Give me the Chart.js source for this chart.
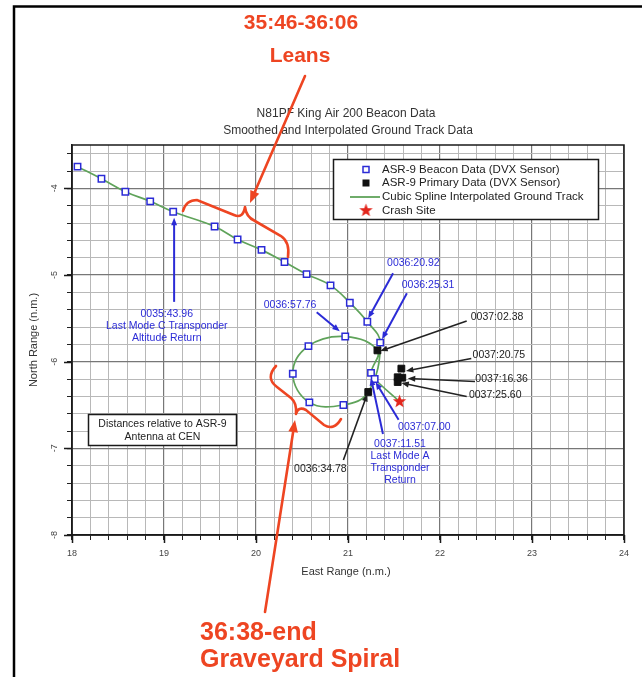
<!DOCTYPE html>
<html>
<head>
<meta charset="utf-8">
<script src="https://cdn.jsdelivr.net/npm/chart.js@4.4.1/dist/chart.umd.min.js"></script>
<style>
  html, body { margin: 0; padding: 0; background: #fff; }
  canvas { display: block; }
</style>
</head>
<body>
<canvas id="trackChart" width="642" height="677"></canvas>
<script>
// spline knots in flight order (east / north range, n.m.)
const trackEast = [18.06, 18.32, 18.58, 18.85, 19.10, 19.55, 19.80, 20.06, 20.31, 20.55, 20.81, 21.02, 21.21, 21.35,
  21.22, 20.95, 20.58, 20.40, 20.57, 20.97, 21.32, 21.25, 21.29, 21.56];
const trackNorth = [-3.75, -3.89, -4.04, -4.15, -4.27, -4.44, -4.59, -4.71, -4.85, -4.99, -5.12, -5.32, -5.54, -5.78,
  -6.35, -6.50, -6.47, -6.14, -5.82, -5.71, -5.87, -6.13, -6.20, -6.46];

// ASR-9 beacon returns
const beaconEast = [18.06, 18.32, 18.58, 18.85, 19.10, 19.55, 19.80, 20.06, 20.31, 20.55, 20.81, 21.02, 21.21, 21.35,
  20.95, 20.58, 20.40, 20.57, 20.97, 21.25, 21.29];
const beaconNorth = [-3.75, -3.89, -4.04, -4.15, -4.27, -4.44, -4.59, -4.71, -4.85, -4.99, -5.12, -5.32, -5.54, -5.78,
  -6.50, -6.47, -6.14, -5.82, -5.71, -6.13, -6.20];

// ASR-9 primary returns
const primaryEast = [21.22, 21.32, 21.58, 21.54, 21.59, 21.54];
const primaryNorth = [-6.35, -5.87, -6.08, -6.18, -6.185, -6.235];

const crashEast = [21.56];
const crashNorth = [-6.46];

const eastTicks = [18, 19, 20, 21, 22, 23, 24];
const northTicks = [-8, -7, -6, -5, -4];
const northTop = -3.5;

const blue = '#2b2bd6';
const red = '#ee4522';
const green = '#5fa35a';

// time tags: label anchor, arrow tail, arrow tip (data coords)
const timeNotes = [
  { lines: ['0035:43.96', 'Last Mode C Transponder', 'Altitude Return'], at: [19.03, -5.45], from: [19.11, -5.31], to: [19.11, -4.34], color: blue },
  { lines: ['0036:20.92'], at: [21.71, -4.86], from: [21.49, -4.98], to: [21.22, -5.50], color: blue },
  { lines: ['0036:25.31'], at: [21.87, -5.115], from: [21.64, -5.21], to: [21.37, -5.74], color: blue },
  { lines: ['0036:57.76'], at: [20.37, -5.35], from: [20.66, -5.43], to: [20.91, -5.65], color: blue },
  { lines: ['0037:07.00'], at: [21.83, -6.76], from: [21.55, -6.67], to: [21.30, -6.235], color: blue },
  { lines: ['0037:11.51', 'Last Mode A', 'Transponder', 'Return'], at: [21.565, -6.95], from: [21.38, -6.835], to: [21.25, -6.19], color: blue },
  { lines: ['0037:02.38'], at: [22.62, -5.485], from: [22.29, -5.53], to: [21.35, -5.877], color: '#222' },
  { lines: ['0037:20.75'], at: [22.64, -5.923], from: [22.34, -5.963], to: [21.63, -6.108], color: '#222' },
  { lines: ['0037:16.36'], at: [22.67, -6.206], from: [22.38, -6.229], to: [21.65, -6.194], color: '#222' },
  { lines: ['0037:25.60'], at: [22.60, -6.385], from: [22.29, -6.402], to: [21.58, -6.246], color: '#222' },
  { lines: ['0036:34.78'], at: [20.70, -7.238], from: [20.95, -7.135], to: [21.21, -6.373], color: '#222' }
];

const FONT = "'Liberation Sans', Arial, sans-serif";
Chart.defaults.font.family = FONT;

const toXY = (xs, ys) => xs.map((x, i) => ({ x: x, y: ys[i] }));
const isMajor = v => Math.abs(v - Math.round(v)) < 1e-6;

// filled star for the crash site
const star = document.createElement('canvas');
star.width = 15; star.height = 15;
(function () {
  const c = star.getContext('2d');
  c.fillStyle = '#e3261c';
  c.beginPath();
  for (let i = 0; i < 10; i++) {
    const r = i % 2 ? 2.9 : 7;
    const a = -Math.PI / 2 + i * Math.PI / 5;
    c.lineTo(7.5 + r * Math.cos(a), 7.5 + r * Math.sin(a));
  }
  c.closePath();
  c.fill();
})();

function arrow(ctx, x1, y1, x2, y2, color, width, head) {
  const a = Math.atan2(y2 - y1, x2 - x1);
  ctx.strokeStyle = color;
  ctx.fillStyle = color;
  ctx.lineWidth = width;
  ctx.beginPath();
  ctx.moveTo(x1, y1);
  ctx.lineTo(x2 - head * 0.8 * Math.cos(a), y2 - head * 0.8 * Math.sin(a));
  ctx.stroke();
  ctx.beginPath();
  ctx.moveTo(x2, y2);
  ctx.lineTo(x2 - head * Math.cos(a - 0.38), y2 - head * Math.sin(a - 0.38));
  ctx.lineTo(x2 - head * Math.cos(a + 0.38), y2 - head * Math.sin(a + 0.38));
  ctx.closePath();
  ctx.fill();
}

const overlay = {
  id: 'overlay',
  afterDraw(chart) {
    const { ctx, chartArea: a, scales: { x, y } } = chart;
    ctx.save();

    // plot frame + long major ticks
    ctx.strokeStyle = '#1a1a1a';
    ctx.lineWidth = 1.5;
    ctx.strokeRect(a.left, a.top, a.right - a.left, a.bottom - a.top);
    ctx.beginPath();
    eastTicks.forEach(v => { const p = Math.round(x.getPixelForValue(v)) + 0.5; ctx.moveTo(p, a.bottom); ctx.lineTo(p, a.bottom + 8); });
    northTicks.forEach(v => { const p = Math.round(y.getPixelForValue(v)) + 0.5; ctx.moveTo(a.left - 8, p); ctx.lineTo(a.left, p); });
    ctx.stroke();

    // titles
    const cx = (a.left + a.right) / 2;
    ctx.fillStyle = '#333';
    ctx.textAlign = 'center';
    ctx.textBaseline = 'middle';
    ctx.font = '12px ' + FONT;
    ctx.fillText('N81PF King Air 200 Beacon Data', cx - 2, 114);
    ctx.fillText('Smoothed and Interpolated Ground Track Data', cx, 131);
    ctx.font = '11px ' + FONT;
    ctx.fillText('East Range (n.m.)', cx - 2, 572);
    ctx.save();
    ctx.translate(34, (a.top + a.bottom) / 2);
    ctx.rotate(-Math.PI / 2);
    ctx.fillText('North Range (n.m.)', 0, 0);
    ctx.restore();

    // legend box
    ctx.fillStyle = '#fff';
    ctx.fillRect(333, 159, 265, 60);
    ctx.strokeStyle = '#1a1a1a';
    ctx.lineWidth = 1.5;
    ctx.strokeRect(333.5, 159.5, 265, 60);
    const rows = [169.5, 183, 197, 210.5];
    ctx.lineWidth = 1.5;
    ctx.strokeStyle = blue; ctx.fillStyle = '#fff';
    ctx.fillRect(363, 166.5, 6, 6); ctx.strokeRect(363, 166.5, 6, 6);
    ctx.fillStyle = '#111';
    ctx.fillRect(362.5, 179.5, 7, 7);
    ctx.strokeStyle = green; ctx.lineWidth = 1.8;
    ctx.beginPath(); ctx.moveTo(350, 197); ctx.lineTo(380, 197); ctx.stroke();
    ctx.drawImage(star, 358.5, 203);
    ctx.fillStyle = '#222';
    ctx.textAlign = 'left';
    ctx.font = '11.5px ' + FONT;
    ['ASR-9 Beacon Data (DVX Sensor)', 'ASR-9 Primary Data (DVX Sensor)', 'Cubic Spline Interpolated Ground Track', 'Crash Site']
      .forEach((t, i) => ctx.fillText(t, 382, rows[i]));

    // time tags
    ctx.textAlign = 'center';
    ctx.font = '10.5px ' + FONT;
    timeNotes.forEach(n => {
      const thick = n.color === blue ? 2 : 1.6;
      arrow(ctx, x.getPixelForValue(n.from[0]), y.getPixelForValue(n.from[1]),
        x.getPixelForValue(n.to[0]), y.getPixelForValue(n.to[1]), n.color, thick, 8);
      ctx.fillStyle = n.color;
      n.lines.forEach((t, i) => ctx.fillText(t, x.getPixelForValue(n.at[0]), y.getPixelForValue(n.at[1]) + i * 12));
    });

    // reference note
    ctx.fillStyle = '#fff';
    ctx.fillRect(88, 414, 149, 32);
    ctx.strokeStyle = '#1a1a1a';
    ctx.lineWidth = 1.5;
    ctx.strokeRect(88.5, 414.5, 148, 31);
    ctx.fillStyle = '#222';
    ctx.font = '10.5px ' + FONT;
    ctx.fillText('Distances relative to ASR-9', 162.5, 424);
    ctx.fillText('Antenna at CEN', 162.5, 437);

    // slide call-outs
    ctx.strokeStyle = red;
    ctx.lineWidth = 2.6;
    ctx.lineCap = 'round';
    ctx.beginPath();
    ctx.moveTo(183, 211);
    ctx.quadraticCurveTo(186, 200, 197, 200);
    ctx.lineTo(234, 215);
    ctx.quadraticCurveTo(243, 219, 245, 207);
    ctx.moveTo(245, 207);
    ctx.quadraticCurveTo(246, 217, 255, 221);
    ctx.lineTo(281, 236);
    ctx.quadraticCurveTo(290, 242, 288, 257);
    ctx.moveTo(276, 366);
    ctx.quadraticCurveTo(265, 378, 277, 387);
    ctx.lineTo(291, 398);
    ctx.quadraticCurveTo(297, 403, 296, 414);
    ctx.moveTo(296, 414);
    ctx.quadraticCurveTo(298, 406, 306, 410);
    ctx.lineTo(324, 425);
    ctx.quadraticCurveTo(334, 431, 341, 419);
    ctx.stroke();
    arrow(ctx, 305, 76, 250, 203, red, 2.6, 13);
    arrow(ctx, 265, 612, 295, 420, red, 2.6, 13);

    ctx.fillStyle = red;
    ctx.textAlign = 'center';
    ctx.font = 'bold 21px ' + FONT;
    ctx.fillText('35:46-36:06', 301, 23);
    ctx.fillText('Leans', 300, 56);
    ctx.textAlign = 'left';
    ctx.font = 'bold 25px ' + FONT;
    ctx.fillText('36:38-end', 200, 633);
    ctx.fillText('Graveyard Spiral', 200, 660);

    // page frame
    ctx.strokeStyle = '#000';
    ctx.lineWidth = 2.5;
    ctx.lineCap = 'butt';
    ctx.beginPath();
    ctx.moveTo(14, 677); ctx.lineTo(14, 6.5); ctx.lineTo(642, 6.5);
    ctx.stroke();
    ctx.restore();
  }
};

const gridColor = c => isMajor(c.tick.value) ? '#777' : '#b8b8b8';

new Chart(document.getElementById('trackChart').getContext('2d'), {
  type: 'scatter',
  data: {
    datasets: [
      {
        label: 'Crash Site',
        data: toXY(crashEast, crashNorth),
        pointStyle: star
      },
      {
        label: 'ASR-9 Primary Data (DVX Sensor)',
        data: toXY(primaryEast, primaryNorth),
        pointStyle: 'rect',
        pointRadius: 4.8,
        backgroundColor: '#111',
        borderColor: '#111',
        borderWidth: 1
      },
      {
        label: 'ASR-9 Beacon Data (DVX Sensor)',
        data: toXY(beaconEast, beaconNorth),
        pointStyle: 'rect',
        pointRadius: 4.5,
        backgroundColor: '#fff',
        borderColor: blue,
        borderWidth: 1.5
      },
      {
        label: 'Cubic Spline Interpolated Ground Track',
        data: toXY(trackEast, trackNorth),
        showLine: true,
        borderColor: green,
        borderWidth: 1.7,
        pointRadius: 0,
        tension: 0.4
      }
    ]
  },
  options: {
    responsive: false,
    animation: false,
    devicePixelRatio: 1,
    layout: { padding: { left: 0, top: 145, right: 18, bottom: 0 } },
    plugins: { legend: { display: false }, tooltip: { enabled: false } },
    scales: {
      x: {
        type: 'linear',
        min: eastTicks[0],
        max: eastTicks[eastTicks.length - 1],
        afterFit: s => { s.height = 142; s.paddingLeft = 0; s.paddingRight = 0; },
        ticks: {
          stepSize: 0.2, autoSkip: false, maxRotation: 0, padding: 8,
          color: '#444', font: { size: 9 },
          callback: v => isMajor(v) ? String(Math.round(v)) : ''
        },
        grid: { color: gridColor, lineWidth: c => isMajor(c.tick.value) ? 1.2 : 1, tickLength: 5, tickColor: '#222' },
        border: { color: '#1a1a1a', width: 1.5 }
      },
      y: {
        type: 'linear',
        min: northTicks[0],
        max: northTop,
        afterFit: s => { s.width = 72; s.paddingTop = 0; s.paddingBottom = 0; },
        ticks: {
          stepSize: 0.2, includeBounds: false, autoSkip: false,
          minRotation: 90, maxRotation: 90, crossAlign: 'center', padding: 8,
          color: '#444', font: { size: 9 },
          callback: v => isMajor(v) ? String(Math.round(v)) : ''
        },
        grid: { color: gridColor, lineWidth: c => isMajor(c.tick.value) ? 1.2 : 1, tickLength: 5, tickColor: '#222' },
        border: { color: '#1a1a1a', width: 1.5 }
      }
    }
  },
  plugins: [overlay]
});
</script>
</body>
</html>
